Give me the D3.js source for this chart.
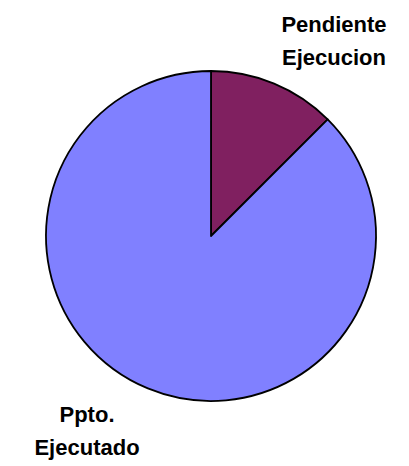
<!DOCTYPE html>
<html lang="es">
<head>
<meta charset="utf-8">
<script src="https://d3js.org/d3.v7.min.js"></script>
<style>
  html, body { margin: 0; padding: 0; background: #fff; }
  svg text { font-family: "Liberation Sans", Arial, sans-serif; font-weight: bold; font-size: 22px; fill: #000; }
</style>
<title>Presupuesto</title>
</head>
<body>
<svg id="chart"></svg>
<script>
  // data
  const categories = ["Pendiente Ejecucion", "Ppto. Ejecutado"];
  const values = [12.5, 87.5];
  const labelLines = [["Pendiente", "Ejecucion"], ["Ppto.", "Ejecutado"]];
  const colors = ["#802060", "#8080ff"];

  const W = 409, H = 466;
  const cx = 211, cy = 236, r = 165;

  const svg = d3.select("#chart").attr("width", W).attr("height", H);
  const g = svg.append("g").attr("transform", `translate(${cx},${cy})`);

  const pie = d3.pie().sort(null).value(d => d)(values);
  const arc = d3.arc().innerRadius(0).outerRadius(r);

  g.selectAll("path")
    .data(pie)
    .join("path")
    .attr("d", arc)
    .attr("fill", (d, i) => colors[i])
    .attr("stroke", "#000")
    .attr("stroke-width", 1.8)
    .attr("stroke-linejoin", "round");

  // label anchors (first line baseline), relative to pie centre
  const labelPos = [[123, -204], [-124, 186]];
  const lab = g.selectAll("text.lab")
    .data(pie)
    .join("text")
    .attr("class", "lab")
    .attr("text-anchor", "middle")
    .attr("transform", (d, i) => `translate(${labelPos[i][0]},${labelPos[i][1]})`);

  lab.selectAll("tspan")
    .data((d, i) => labelLines[i])
    .join("tspan")
    .attr("x", 0)
    .attr("dy", (d, j) => j === 0 ? 0 : 33)
    .text(d => d);
</script>
</body>
</html>
